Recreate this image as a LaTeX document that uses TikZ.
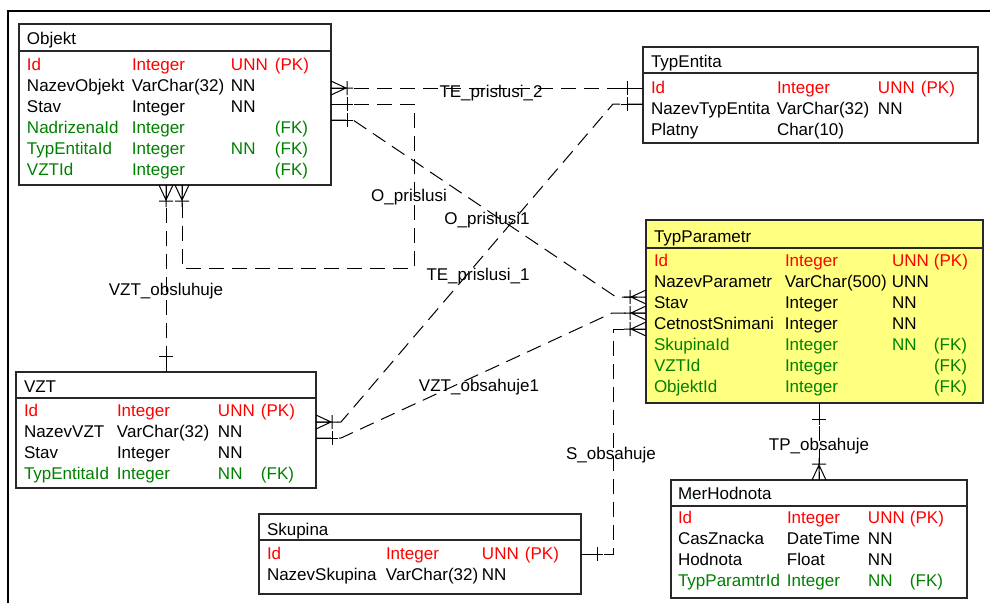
\documentclass[tikz,border=0pt]{standalone}
\usepackage{fontspec}
\setmainfont{Liberation Sans}
\usetikzlibrary{calc}
\definecolor{pkred}{RGB}{255,0,0}
\definecolor{fkgreen}{RGB}{0,128,0}
\definecolor{tblyellow}{RGB}{255,255,128}
\definecolor{bordergray}{RGB}{40,40,40}
\newcommand\ertrows[7]{%
  \foreach \na/\ty/\nn/\ky/\cl [count=\i] in {#7}
    \node[rowtxt, text=\cl] (#1-r\i) at (#2,{#3+21.15*(\i-1)})
      {\makebox[#4pt][l]{\na}\makebox[#5pt][l]{\ty}\makebox[#6pt][l]{\nn}\ky};%
}
\begin{document}
\begin{tikzpicture}[x=1pt,y=-1pt,
  every node/.style={font=\fontsize{17}{20}\selectfont, inner sep=0pt, outer sep=0pt},
  tbl/.style={draw=bordergray, line width=1.3pt, anchor=north west, inner sep=0pt},
  sepline/.style={draw=bordergray, line width=1.3pt},
  rowtxt/.style={anchor=base west},
  lbl/.style={anchor=base},
  conn/.style={line width=1pt, dash pattern=on 15pt off 8pt},
  markline/.style={line width=1pt, solid},
  one/.pic={\draw[markline] (0,0) -- (22,0) (16,-7) -- (16,7);},
  many/.pic={\draw[markline] (0,-7) -- (15,0) -- (0,7) (0,0) -- (22,0) (16,-7) -- (16,7);},
]
\fill[white] (0,0) rectangle (990,603);
\useasboundingbox (0,0) rectangle (990,603);
% outer frame
\draw[line width=2pt] (8,603) -- (8,11) -- (990,11);

% ---------- tables ----------
\node[tbl, minimum width=312pt, minimum height=161pt] (objekt) at (19,24) {};
\draw[sepline] ([yshift=-27pt]objekt.north west) -- ([yshift=-27pt]objekt.north east);
\node[rowtxt] (objekt-title) at (27,44) {Objekt};
\ertrows{objekt}{27}{70}{105}{99}{44}{Id/Integer/UNN/(PK)/pkred, NazevObjekt/VarChar(32)/NN//black, Stav/Integer/NN//black, NadrizenaId/Integer//(FK)/fkgreen, TypEntitaId/Integer/NN/(FK)/fkgreen, VZTId/Integer//(FK)/fkgreen}

\node[tbl, minimum width=335pt, minimum height=96pt] (typentita) at (643,47) {};
\draw[sepline] ([yshift=-26pt]typentita.north west) -- ([yshift=-26pt]typentita.north east);
\node[rowtxt] (typentita-title) at (651,67) {TypEntita};
\ertrows{typentita}{651}{93}{126}{101}{43}{Id/Integer/UNN/(PK)/pkred, NazevTypEntita/VarChar(32)/NN//black, Platny/Char(10)///black}

\node[tbl, fill=tblyellow, minimum width=337pt, minimum height=183pt] (typparametr) at (646,220) {};
\draw[sepline] ([yshift=-28pt]typparametr.north west) -- ([yshift=-28pt]typparametr.north east);
\node[rowtxt] (typparametr-title) at (654,242) {TypParametr};
\ertrows{typparametr}{654}{266}{131}{107}{42}{Id/Integer/UNN/(PK)/pkred, NazevParametr/VarChar(500)/UNN//black, Stav/Integer/NN//black, CetnostSnimani/Integer/NN//black, SkupinaId/Integer/NN/(FK)/fkgreen, VZTId/Integer//(FK)/fkgreen, ObjektId/Integer//(FK)/fkgreen}

\node[tbl, minimum width=300pt, minimum height=116pt] (vzt) at (16,372) {};
\draw[sepline] ([yshift=-26pt]vzt.north west) -- ([yshift=-26pt]vzt.north east);
\node[rowtxt] (vzt-title) at (24,392) {VZT};
\ertrows{vzt}{24}{416}{93}{101}{43}{Id/Integer/UNN/(PK)/pkred, NazevVZT/VarChar(32)/NN//black, Stav/Integer/NN//black, TypEntitaId/Integer/NN/(FK)/fkgreen}

\node[tbl, minimum width=322pt, minimum height=80pt] (skupina) at (259,514) {};
\draw[sepline] ([yshift=-26pt]skupina.north west) -- ([yshift=-26pt]skupina.north east);
\node[rowtxt] (skupina-title) at (267,535) {Skupina};
\ertrows{skupina}{267}{559}{119}{96}{43}{Id/Integer/UNN/(PK)/pkred, NazevSkupina/VarChar(32)/NN//black}

\node[tbl, minimum width=296pt, minimum height=118pt] (merhodnota) at (671,480) {};
\draw[sepline] ([yshift=-26pt]merhodnota.north west) -- ([yshift=-26pt]merhodnota.north east);
\node[rowtxt] (merhodnota-title) at (678,499) {MerHodnota};
\ertrows{merhodnota}{678}{523}{109}{81}{42}{Id/Integer/UNN/(PK)/pkred, CasZnacka/DateTime/NN//black, Hodnota/Float/NN//black, TypParamtrId/Integer/NN/(FK)/fkgreen}

% ---------- connectors ----------
% TE_prislusi_2
\draw[conn] (objekt.east|-0,88) -- (typentita.west|-0,88);
\pic at (objekt.east|-0,88) {many};
\pic[rotate=180] at (typentita.west|-0,88) {one};
% O_prislusi
\draw[conn] (objekt.east|-0,104) -| (414,268) -| (objekt.south-|182,0);
\pic at (objekt.east|-0,104) {one};
\pic[rotate=-90] at (objekt.south-|182,0) {many};
% O_prislusi1
\draw[conn] (objekt.east|-0,120) -- ++(22,0) -- ([xshift=-30pt]typparametr.west|-0,297) -- (typparametr.west|-0,297);
\pic at (objekt.east|-0,120) {one};
\pic[rotate=180] at (typparametr.west|-0,297) {many};
% TE_prislusi_1
\draw[conn] (typentita.west|-0,104) -- ++(-30,0) -- ([xshift=25pt]vzt.east|-0,422) -- (vzt.east|-0,422);
\pic[rotate=180] at (typentita.west|-0,104) {one};
\pic at (vzt.east|-0,422) {many};
% VZT_obsahuje1
\draw[conn] (vzt.east|-0,438) -- ++(25,0) -- ([xshift=-34pt]typparametr.west|-0,313) -- (typparametr.west|-0,313);
\pic at (vzt.east|-0,438) {one};
\pic[rotate=180] at (typparametr.west|-0,313) {many};
% S_obsahuje
\draw[conn] (skupina.east|-0,554) -| ([xshift=-33pt]typparametr.west|-0,329) -- (typparametr.west|-0,329);
\pic at (skupina.east|-0,554) {one};
\pic[rotate=180] at (typparametr.west|-0,329) {many};
% VZT_obsluhuje
\draw[conn] (objekt.south-|166,0) -- (vzt.north-|166,0);
\pic[rotate=-90] at (objekt.south-|166,0) {many};
\pic[rotate=90] at (vzt.north-|166,0) {one};
% TP_obsahuje
\draw[conn] (typparametr.south-|819,0) -- (merhodnota.north-|819,0);
\pic[rotate=-90] at (typparametr.south-|819,0) {one};
\pic[rotate=90] at (merhodnota.north-|819,0) {many};

% ---------- labels ----------
\node[lbl] (l-te2) at (491,97) {TE\_prislusi\_2};
\node[lbl] (l-op) at (409,201) {O\_prislusi};
\node[lbl] (l-op1) at (487,224) {O\_prislusi1};
\node[lbl] (l-te1) at (478,280) {TE\_prislusi\_1};
\node[lbl] (l-vob) at (166,295) {VZT\_obsluhuje};
\node[lbl] (l-vos) at (479,391) {VZT\_obsahuje1};
\node[lbl] (l-so) at (611,459) {S\_obsahuje};
\node[lbl] (l-tp) at (819,450) {TP\_obsahuje};
\end{tikzpicture}
\end{document}
